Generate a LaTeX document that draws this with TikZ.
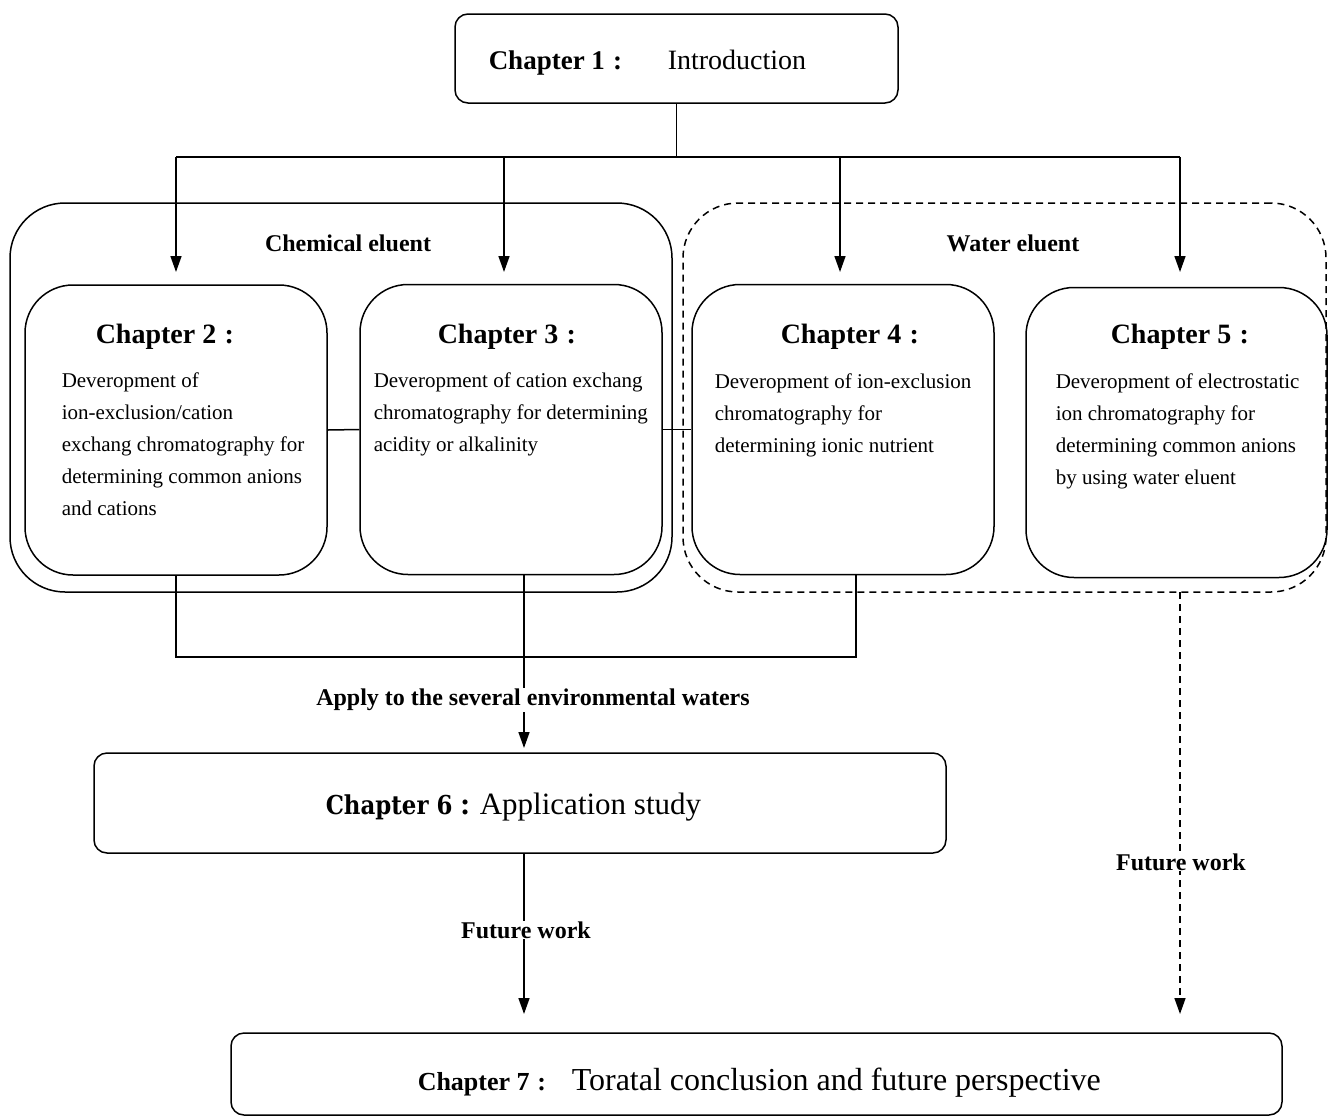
\documentclass[tikz,border=0pt]{standalone}
\usepackage{fontspec}
\setmainfont{Liberation Serif}
\newfontfamily\scholafont[FakeStretch=0.88]{DejaVu Serif}
\usetikzlibrary{arrows.meta}
\newcommand{\fwcolon}{\hspace{0.3em}\textbf{:}\hspace{0.35em}}
\begin{document}
\begin{tikzpicture}[x=1pt,y=-1pt,line width=1.5pt,
  bigbox/.style={draw, rounded corners=55pt, inner sep=0pt},
  chbox/.style={draw, rounded corners=48pt, minimum width=302pt, minimum height=290pt, inner sep=0pt},
  flatbox/.style={draw, rounded corners=13pt, inner sep=0pt},
  head/.style={font=\fontsize{28}{34}\selectfont\bfseries, inner sep=0pt, anchor=base west},
  body/.style={font=\fontsize{21}{32}\selectfont, align=left, inner sep=0pt, anchor=north west},
  lbl/.style={font=\fontsize{24}{28}\selectfont\bfseries, inner sep=2pt},
  arr/.style={-{Triangle[length=16pt,width=11pt]}},
  dsh/.style={dash pattern=on 7pt off 5pt}
]
\useasboundingbox (0,0) rectangle (1328,1117);

% Chapter 1
\node[flatbox, minimum width=443pt, minimum height=89pt] (ch1) at (676.5,58.5) {};
\node[anchor=base west, inner sep=0pt, font=\fontsize{27}{32}\selectfont\bfseries] (ch1h) at (488,69) {Chapter 1\fwcolon};
\node[anchor=base west, inner sep=0pt, font=\fontsize{28}{32}\selectfont] (ch1t) at (667,69) {Introduction};

% groups
\node[bigbox, minimum width=662pt, minimum height=389pt] (chem) at (341,397.5) {};
\node[bigbox, dsh, minimum width=643pt, minimum height=389pt] (water) at (1004.5,397.5) {};
\node[lbl] (chemlbl) at (348,243) {Chemical eluent};
\node[lbl] (waterlbl) at (1013,243) {Water eluent};

% chapter boxes
\node[chbox] (ch2) at (176,430) {};
\node[chbox] (ch3) at (511,429.5) {};
\node[chbox] (ch4) at (843,429.5) {};
\node[chbox, minimum width=301pt] (ch5) at (1176.5,432.5) {};

\node[head] (ch2h) at (95,343) {Chapter 2\fwcolon};
\node[head] (ch3h) at (437,343) {Chapter 3\fwcolon};
\node[head] (ch4h) at (780,343) {Chapter 4\fwcolon};
\node[head] (ch5h) at (1110,343) {Chapter 5\fwcolon};

\node[body] (ch2b) at (61,372) {Deveropment of\\ion-exclusion/cation\\exchang chromatography for\\determining common anions\\and cations};
\node[body] (ch3b) at (373,372) {Deveropment of cation exchang\\chromatography for determining\\acidity or alkalinity};
\node[body] (ch4b) at (714,373) {Deveropment of ion-exclusion\\chromatography for\\determining ionic nutrient};
\node[body] (ch5b) at (1055,373) {Deveropment of electrostatic\\ion chromatography for\\determining common anions\\by using water eluent};

\draw (ch2.east) -- (ch3.west);
\draw (ch3.east) -- (ch4.west);

% top bus
\coordinate (busC) at (676.5,157);
\coordinate (busL) at (176,157);
\coordinate (busR) at (1180,157);
\coordinate (bus3) at (504,157);
\coordinate (bus4) at (840,157);
\coordinate (t2) at (176,272);
\coordinate (t3) at (504,272);
\coordinate (t4) at (840,272);
\coordinate (t5) at (1180,272);
\draw (ch1.south) -- (busC);
\draw (busL) -- (busR);
\draw[arr] (busL) -- (t2);
\draw[arr] (bus3) -- (t3);
\draw[arr] (bus4) -- (t4);
\draw[arr] (busR) -- (t5);

% bottom joins
\coordinate (j2) at (176,657);
\coordinate (j4) at (856,657);
\coordinate (t6) at (524,748);
\draw (ch2.south) -- (j2) -- (j4) -- ([xshift=13pt]ch4.south);
\draw[arr] ([xshift=13pt]ch3.south) -- (t6);
\node[lbl, fill=white, inner sep=1pt] (apply) at (533,700) {Apply to the several environmental waters};

% Chapter 6
\node[flatbox, minimum width=852pt, minimum height=100pt] (ch6) at (520,803) {};
\node[anchor=base west, inner sep=0pt, font=\fontsize{31}{36}\selectfont] (ch6t) at (325,814) {{\scholafont\bfseries\fontsize{26}{30}\selectfont Chapter 6}\hspace{0.25em}\textbf{:}\hspace{0.3em}Application study};

% to chapter 7
\coordinate (t7a) at (524,1014);
\coordinate (wdrop) at (1180,592);
\coordinate (t7b) at (1180,1014);
\draw[arr] ([xshift=4pt]ch6.south) -- (t7a);
\node[lbl, fill=white, inner sep=1pt] (fw1) at (526,930) {Future work};
\draw[arr, dsh] (wdrop) -- (t7b);
\node[lbl, fill=white, inner sep=1pt] (fw2) at (1181,862) {Future work};

% Chapter 7
\node[flatbox, minimum width=1051pt, minimum height=82pt] (ch7) at (756.5,1074) {};
\node[anchor=base west, inner sep=0pt, font=\fontsize{26}{32}\selectfont\bfseries] (ch7h) at (417,1090) {Chapter 7\fwcolon};
\node[anchor=base west, inner sep=0pt, font=\fontsize{32}{36}\selectfont] (ch7t) at (571,1090) {Toratal conclusion and future perspective};
\end{tikzpicture}
\end{document}
